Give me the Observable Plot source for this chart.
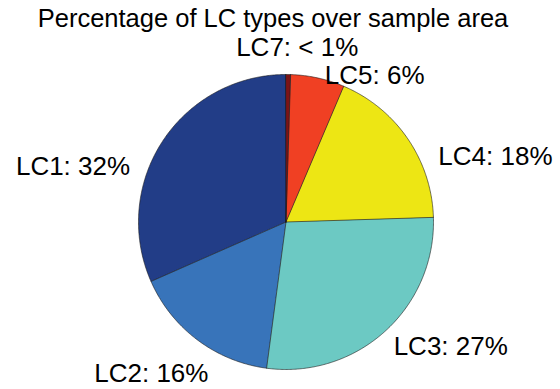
<!DOCTYPE html>
<html>
<head>
<meta charset="utf-8">
<script src="https://cdn.jsdelivr.net/npm/d3@7"></script>
<script src="https://cdn.jsdelivr.net/npm/@observablehq/plot@0.6"></script>
<style>
  html, body { margin: 0; padding: 0; background: #fff; }
  #chart svg { display: block; }
</style>
</head>
<body>
<div id="chart"></div>
<script>
// ---- data ----
const title = "Percentage of LC types over sample area";
const categories = ["LC1", "LC2", "LC3", "LC4", "LC5", "LC7"];
const shares = [31.6, 16.3, 27.6, 18.1, 5.9, 0.5];
const labelTexts = ["LC1: 32%", "LC2: 16%", "LC3: 27%", "LC4: 18%", "LC5: 6%", "LC7: < 1%"];

// ---- styling / layout ----
const colors = ["#223d87", "#3874ba", "#6cc9c3", "#ede614", "#f04023", "#7b1416"];
// label centres, in units of the pie radius (x right, y up)
const labelPos = [[-1.444, 0.373], [-0.913, -1.028], [1.117, -0.847], [1.420, 0.441], [0.601, 0.995], [0.076, 1.180]];

// ---- build slices (counter-clockwise from 12 o'clock, like MATLAB pie) ----
const total = d3.sum(shares);
let cum = 0;
const slices = categories.map((c, i) => {
  const a0 = 90 + (cum / total) * 360;
  cum += shares[i];
  const a1 = 90 + (cum / total) * 360;
  const n = Math.max(2, Math.ceil((a1 - a0) / 0.5));
  const ring = [[0, 0]];
  for (let k = 0; k <= n; k++) {
    const a = (a0 + (a1 - a0) * k / n) * Math.PI / 180;
    ring.push([Math.cos(a), Math.sin(a)]);
  }
  ring.push([0, 0]);
  return {type: "Feature", properties: {name: c, color: colors[i]}, geometry: {type: "Polygon", coordinates: [ring]}};
});

const labels = categories.map((c, i) => ({name: c, text: labelTexts[i], x: labelPos[i][0], y: labelPos[i][1]}));

const chart = Plot.plot({
  width: 560,
  height: 389,
  marginLeft: 138,
  marginRight: 127,
  marginTop: 74,
  marginBottom: 20,
  style: {background: "#fff", fontFamily: "'Liberation Sans', Arial, Helvetica, sans-serif"},
  projection: {type: "reflect-y", clip: false, domain: {type: "MultiPoint", coordinates: [[-1, -1], [1, 1]]}},
  marks: [
    Plot.geo(slices, {fill: d => d.properties.color, stroke: "#1a1a1a", strokeWidth: 0.6, strokeLinejoin: "round"}),
    Plot.text(labels, {x: "x", y: "y", text: "text", fontSize: 26, fill: "#000", textAnchor: "middle", lineAnchor: "middle"}),
    Plot.text([title], {frameAnchor: "top", dx: -13, dy: -56, fontSize: 25.5, fill: "#000", lineAnchor: "middle"})
  ]
});
document.getElementById("chart").appendChild(chart);
</script>
</body>
</html>
